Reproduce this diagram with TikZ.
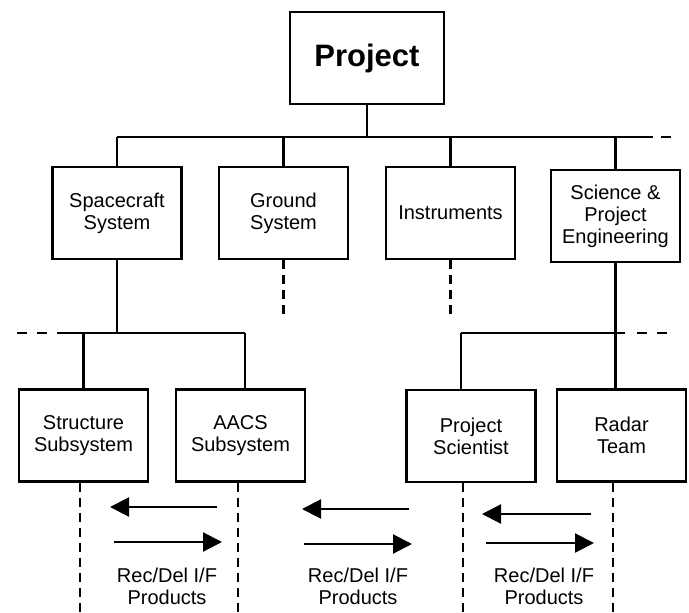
\documentclass[tikz,border=0pt]{standalone}
\usepackage{fontspec}
\setmainfont{Liberation Sans}
\usetikzlibrary{arrows.meta,calc,positioning}
\tikzset{
  org box/.style={draw, line width=2.2pt, align=center, inner sep=0pt,
    minimum width=129pt, minimum height=92pt,
    font=\fontsize{20}{22}\selectfont},
  org link/.style={line width=2.2pt},
  org open/.style={line width=2.2pt, dash pattern=on 9pt off 6pt},
  org bus open/.style={line width=2.2pt, dash pattern=on 10pt off 10pt},
  flow arrow/.style={line width=2.2pt, -{Triangle[length=19pt,width=19pt]}},
  flow label/.style={align=center, font=\fontsize{20}{22}\selectfont}
}

\begin{document}
\begin{tikzpicture}[x=1pt,y=-1pt]
  \useasboundingbox (0,0) rectangle (689,613);

  % boxes
  \node[org box, minimum width=154pt, font=\bfseries\fontsize{31}{34}\selectfont] (project) at (367,58) {Project};
  \node[org box] (spacecraft) at (117,213) {Spacecraft\\System};
  \node[org box] (ground) at (283.5,213) {Ground\\System};
  \node[org box] (instruments) at (450.5,213) {Instruments};
  \node[org box] (science) at (615.5,216) {Science \&\\Project\\Engineering};
  \node[org box] (structure) at (83.5,435.5) {Structure\\Subsystem};
  \node[org box] (aacs) at (240.5,435.5) {AACS\\Subsystem};
  \node[org box] (scientist) at (471,436) {Project\\Scientist};
  \node[org box] (radar) at (621.5,435.5) {Radar\\Team};

  % top bus
  \coordinate (bus L) at (117,137);
  \coordinate (bus R) at (653,137);
  \coordinate (bus end) at (680,137);
  \draw[org link] (project.south) -- (project.south |- bus L);
  \draw[org link] (bus L) -- (bus R);
  \draw[org bus open] (bus R) ++(8,0) -- (bus end);
  \foreach \n in {spacecraft,ground,instruments,science}
    \draw[org link] (\n.north) -- (\n.north |- bus L);
  \draw[org open] (ground.south) -- ++(0,58);
  \draw[org open] (instruments.south) -- ++(0,58);

  % spacecraft branch
  \coordinate (sub L) at (57,333);
  \coordinate (sub R) at (245,333);
  \draw[org bus open] (17,333) -- (sub L);
  \draw[org link] (sub L) -- (sub R);
  \draw[org link] (spacecraft.south) -- (spacecraft.south |- sub R);
  \draw[org link] (structure.north |- sub R) -- (structure.north);
  \draw[org link] (sub R) -- (sub R |- aacs.north);

  % science branch
  \coordinate (sci L) at (461,333);
  \coordinate (sci R) at (625,333);
  \draw[org link] (sci L) -- (sci R);
  \draw[org bus open] (637,333) -- (672,333);
  \draw[org link] (science.south) -- (science.south |- radar.north);
  \draw[org link] (sci L) -- (sci L |- scientist.north);

  % interface lines
  \coordinate (str foot) at (80,613);
  \coordinate (aacs foot) at (238,613);
  \coordinate (ps foot) at (463,613);
  \coordinate (radar foot) at (613,613);
  \draw[org open] (str foot |- structure.south) -- (str foot);
  \draw[org open] (aacs foot |- aacs.south) -- (aacs foot);
  \draw[org open] (ps foot |- scientist.south) -- (ps foot);
  \draw[org open] (radar foot |- radar.south) -- (radar foot);

  % deliveries
  \draw[flow arrow] (217,507) -- (110,507);
  \draw[flow arrow] (114,542) -- (222,542);
  \draw[flow arrow] (409,509) -- (302,509);
  \draw[flow arrow] (304,544) -- (412,544);
  \draw[flow arrow] (591,514) -- (482,514);
  \draw[flow arrow] (486,543) -- (594,543);

  \node[flow label] (rd one) at (167,586) {Rec/Del I/F\\Products};
  \node[flow label] (rd two) at (358,586) {Rec/Del I/F\\Products};
  \node[flow label] (rd three) at (544,586) {Rec/Del I/F\\Products};
\end{tikzpicture}
\end{document}
